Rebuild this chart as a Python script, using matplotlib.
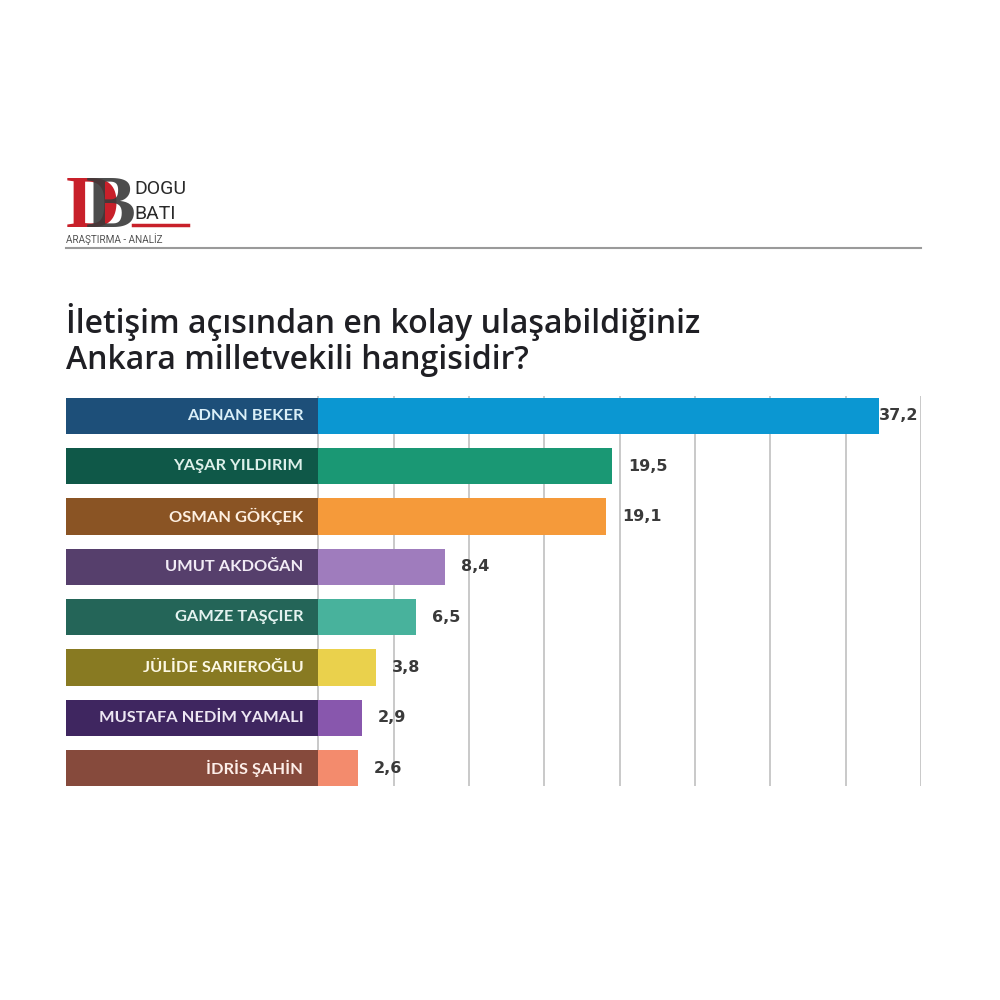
import matplotlib
matplotlib.use("Agg")
import matplotlib.pyplot as plt
from matplotlib.colors import to_rgb

names = ["ADNAN BEKER", "YAŞAR YILDIRIM", "OSMAN GÖKÇEK", "UMUT AKDOĞAN",
         "GAMZE TAŞÇIER", "JÜLİDE SARIEROĞLU", "MUSTAFA NEDİM YAMALI", "İDRİS ŞAHİN"]
values = [37.2, 19.5, 19.1, 8.4, 6.5, 3.8, 2.9, 2.6]
value_labels = ["37,2", "19,5", "19,1", "8,4", "6,5", "3,8", "2,9", "2,6"]
bright_colors = ["#0b97d2", "#1a9874", "#f59a3a", "#9f7cbd", "#48b29c", "#ead14c", "#8857ad", "#f38b6d"]
dark_colors = ["#1d4f79", "#0f5848", "#8a5424", "#563f6c", "#246558", "#887a22", "#3f2660", "#864a3c"]
grid_ticks = [0, 5, 10, 15, 20, 25, 30, 35, 40]
title = "İletişim açısından en kolay ulaşabildiğiniz\nAnkara milletvekili hangisidir?"

W = H = 1000
fig = plt.figure(figsize=(10, 10), dpi=100)
fig.patch.set_facecolor("white")

def fx(px):
    return px / W

def fy(py):
    return 1 - py / H

# axes placement (pixels)
L, R, T, B = 66, 921, 396, 786
ax = fig.add_axes([fx(L), fy(B), fx(R) - fx(L), (B - T) / H])
label_span = 16.75
ax.set_xlim(-label_span, 40)
n = len(names)
ax.set_ylim(n - 1 + 18 / 50.29, -20 / 50.29)
ax.axis("off")

for g in grid_ticks:
    ax.axvline(g, color="#c9c9c9", lw=1.4, zorder=0)

bh = 0.72
ypos = list(range(n))
ax.barh(ypos, [label_span] * n, left=-label_span, height=bh, color=dark_colors, zorder=2)
ax.barh(ypos, values, left=0, height=bh, color=bright_colors, zorder=2)

px_per_unit = (R - L) / (40 + label_span)
for i, (nm, v, vl, bc) in enumerate(zip(names, values, value_labels, bright_colors)):
    r, g_, b_ = to_rgb(bc)
    tint = (0.85 + 0.15 * r, 0.85 + 0.15 * g_, 0.85 + 0.15 * b_)
    ax.text(-15 / px_per_unit, i, nm, ha="right", va="center", color=tint,
            fontsize=11.8, fontweight="bold", family="Lato", zorder=3)
    off = 16 / px_per_unit
    if v + off + 40 / px_per_unit > 40:
        ax.text(40 - 3 / px_per_unit, i, vl, ha="right", va="center", color="#3a3a3a",
                fontsize=11.5, fontweight="bold", family="DejaVu Sans", zorder=3)
    else:
        ax.text(v + off, i, vl, ha="left", va="center", color="#3a3a3a",
                fontsize=11.5, fontweight="bold", family="DejaVu Sans", zorder=3)

# title
fig.text(fx(66), fy(340), title, ha="left", va="center", fontsize=23,
         fontweight="semibold", family="Open Sans", color="#1f1f24", linespacing=1.1)

# header rule
fig.add_artist(plt.Line2D([fx(66), fx(921)], [fy(248), fy(248)], color="#9a9a9a", lw=1.5))

# logo
fig.text(fx(66), fy(227), "D", ha="left", va="baseline", fontsize=54, fontweight="bold",
         family="Liberation Serif", color="#c8202a")
fig.text(fx(86), fy(227), "B", ha="left", va="baseline", fontsize=54, fontweight="bold",
         family="Liberation Serif", color="#3a3a3a", alpha=0.9)
fig.text(fx(134), fy(194), "DOGU", ha="left", va="baseline", fontsize=14,
         family="Roboto", color="#2a2a2a")
fig.text(fx(134), fy(219), "BATI", ha="left", va="baseline", fontsize=14,
         family="Roboto", color="#2a2a2a")
fig.add_artist(plt.Line2D([fx(133), fx(188)], [fy(225), fy(225)], color="#c8202a", lw=2.5))
fig.text(fx(66), fy(243), "ARAŞTIRMA - ANALİZ", ha="left", va="baseline", fontsize=7.2,
         family="Roboto", color="#555555")

fig.savefig("out.png", dpi=100, facecolor="white")
